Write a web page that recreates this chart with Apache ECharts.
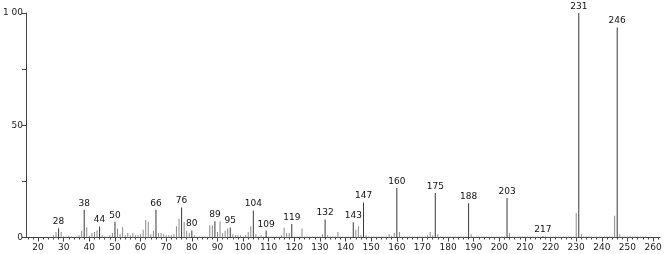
<!DOCTYPE html>
<html>
<head>
<meta charset="utf-8">
<script src="https://cdn.jsdelivr.net/npm/echarts@6/dist/echarts.min.js"></script>
<style>html,body{margin:0;padding:0;background:#fff}#c{width:666px;height:254px}</style>
</head>
<body>
<div id="c"></div>
<script>
// labelled peaks (m/z, relative intensity %)
const labeledMz  = [28, 38, 44, 50, 66, 76, 80, 89, 95, 104, 109, 119, 132, 143, 147, 160, 175, 188, 203, 217, 231, 246];
const labeledInt = [4.1, 12.4, 4.9, 7.0, 12.4, 13.4, 3.1, 7.2, 4.4, 12.0, 3.0, 6.0, 8.0, 6.8, 15.6, 22.0, 19.8, 15.3, 17.6, 0.6, 100, 93.5];
// other peaks
const otherMz  = [26, 27, 29, 30, 31, 32, 33, 35, 36, 37, 39, 40, 41, 42, 43, 45, 46, 47, 48, 49, 51, 52, 53, 54, 55, 56, 57, 58, 59, 60, 61, 62, 63, 64, 65, 67, 68, 69, 70, 71, 72, 73, 74, 75, 77, 78, 79, 81, 82, 83, 84, 85, 86, 87, 88, 90, 91, 92, 93, 94, 96, 97, 98, 99, 100, 101, 102, 103, 105, 106, 107, 108, 110, 111, 112, 113, 114, 115, 116, 117, 118, 120, 121, 122, 123, 124, 125, 126, 127, 128, 129, 130, 131, 133, 134, 135, 136, 137, 138, 139, 140, 141, 142, 144, 145, 146, 148, 149, 150, 151, 152, 153, 154, 155, 156, 157, 158, 159, 161, 162, 163, 164, 165, 166, 167, 168, 169, 170, 171, 172, 173, 174, 176, 177, 178, 179, 180, 181, 182, 183, 184, 185, 186, 187, 189, 190, 191, 192, 193, 194, 195, 196, 197, 198, 199, 200, 201, 202, 204, 205, 206, 207, 208, 209, 210, 211, 212, 213, 214, 215, 216, 218, 219, 220, 221, 222, 223, 224, 225, 226, 227, 228, 229, 230, 232, 233, 234, 235, 236, 237, 238, 239, 240, 241, 242, 243, 244, 245, 247, 248, 249, 250, 251, 252, 253, 254, 255, 256, 257, 258];
const otherInt = [1.0, 2.5, 2.5, 0.6, 0.5, 0.8, 0.5, 0.5, 1.0, 3.0, 4.6, 0.8, 2.0, 2.5, 3.2, 1.0, 0.5, 0.5, 1.0, 2.0, 4.0, 1.5, 4.6, 1.0, 2.0, 1.0, 2.0, 1.0, 1.0, 1.5, 3.5, 7.8, 7.0, 1.5, 3.0, 2.0, 2.0, 1.5, 1.0, 1.0, 1.0, 1.5, 5.0, 8.3, 7.0, 3.0, 2.0, 1.0, 0.5, 0.5, 0.5, 0.5, 0.5, 5.5, 5.5, 2.5, 7.2, 2.0, 3.0, 4.0, 1.5, 1.0, 1.0, 1.0, 0.5, 1.0, 2.5, 5.0, 1.5, 0.5, 1.0, 0.5, 0.5, 0.5, 0.5, 0.5, 0.5, 1.0, 4.4, 2.0, 2.0, 0.5, 0.5, 0.5, 4.0, 0.5, 0.5, 0.5, 0.5, 0.5, 0.5, 0.5, 1.5, 1.0, 0.5, 0.5, 0.5, 2.5, 0.5, 0.5, 0.5, 0.5, 0.5, 3.5, 5.0, 1.0, 1.0, 0.5, 0.5, 0.5, 0.5, 0.5, 0.5, 0.5, 0.5, 1.5, 0.8, 2.0, 2.5, 0.5, 0.5, 0.5, 0.5, 0.5, 0.5, 0.5, 0.5, 0.5, 0.5, 1.0, 2.5, 1.0, 1.5, 0.5, 0.5, 0.5, 0.5, 0.5, 0.5, 0.5, 0.5, 0.5, 0.5, 0.5, 1.5, 0.5, 0.5, 0.5, 0.5, 0.5, 0.5, 0.5, 0.5, 0.5, 0.5, 0.5, 0.5, 0.5, 2.0, 0.5, 0.5, 0.5, 0.5, 0.5, 0.5, 0.5, 0.5, 0.5, 0.5, 0.5, 0.5, 0.5, 0.5, 0.5, 0.5, 0.5, 0.5, 0.5, 0.5, 0.5, 0.5, 0.5, 0.5, 10.9, 1.5, 0.5, 0.5, 0.5, 0.5, 0.5, 0.5, 0.5, 0.5, 0.5, 0.5, 0.5, 0.5, 9.7, 1.5, 0.5, 0.5, 0.5, 0.5, 0.5, 0.5, 0.5, 0.5, 0.5, 0.5];
const xTickLabels = [20, 30, 40, 50, 60, 70, 80, 90, 100, 110, 120, 130, 140, 150, 160, 170, 180, 190, 200, 210, 220, 230, 240, 250, 260];
const xMinorTicks = [16, 18, 22, 24, 26, 28, 32, 34, 36, 38, 42, 44, 46, 48, 52, 54, 56, 58, 62, 64, 66, 68, 72, 74, 76, 78, 82, 84, 86, 88, 92, 94, 96, 98, 102, 104, 106, 108, 112, 114, 116, 118, 122, 124, 126, 128, 132, 134, 136, 138, 142, 144, 146, 148, 152, 154, 156, 158, 162, 164, 166, 168, 172, 174, 176, 178, 182, 184, 186, 188, 192, 194, 196, 198, 202, 204, 206, 208, 212, 214, 216, 218, 222, 224, 226, 228, 232, 234, 236, 238, 242, 244, 246, 248, 252, 254, 256, 258, 262];
const yTickLabels = ['0', '50', '1 00'];

const font = 'DejaVu Sans';
const X_MIN = 15.3, X_MAX = 262.7;
const chart = echarts.init(document.getElementById('c'));
chart.setOption({
  animation: false,
  grid: { left: 25, right: 6, top: 13, bottom: 16.5, containLabel: false },
  xAxis: [
    {
      type: 'value', min: X_MIN, max: X_MAX,
      axisLine: { show: true, onZero: false, lineStyle: { color: '#444', width: 1 } },
      axisTick: { show: true, length: 4, customValues: xTickLabels, lineStyle: { color: '#444' } },
      splitLine: { show: false },
      axisLabel: {
        fontFamily: font, fontSize: 9, color: '#222', margin: 6,
        customValues: xTickLabels,
        formatter: v => String(Math.round(v))
      }
    },
    {
      type: 'value', min: X_MIN, max: X_MAX, position: 'bottom',
      axisLine: { show: false, onZero: false },
      axisTick: { show: true, length: 2, customValues: xMinorTicks, lineStyle: { color: '#444' } },
      splitLine: { show: false },
      axisLabel: { show: false }
    }
  ],
  yAxis: {
    type: 'value', min: 0, max: 100, interval: 25,
    axisLine: { show: true, lineStyle: { color: '#444', width: 1 } },
    axisTick: { show: true, length: 4, lineStyle: { color: '#444' } },
    splitLine: { show: false },
    axisLabel: {
      fontFamily: font, fontSize: 9, color: '#222', margin: 3,
      formatter: v => v === 0 ? yTickLabels[0] : v === 50 ? yTickLabels[1] : v === 100 ? yTickLabels[2] : ''
    }
  },
  series: [
    {
      type: 'bar', barWidth: 1, barGap: '-100%', xAxisIndex: 0,
      itemStyle: { color: '#8a8a8a' },
      data: otherMz.map((m, i) => [m, otherInt[i]]),
      silent: true
    },
    {
      type: 'bar', barWidth: 1, barGap: '-100%', xAxisIndex: 0,
      itemStyle: { color: '#3a3a3a' },
      label: {
        show: true, position: 'top', distance: 2,
        fontFamily: font, fontSize: 9, color: '#111',
        formatter: p => String(p.value[0])
      },
      data: labeledMz.map((m, i) => [m, labeledInt[i]])
    }
  ]
});
</script>
</body>
</html>
